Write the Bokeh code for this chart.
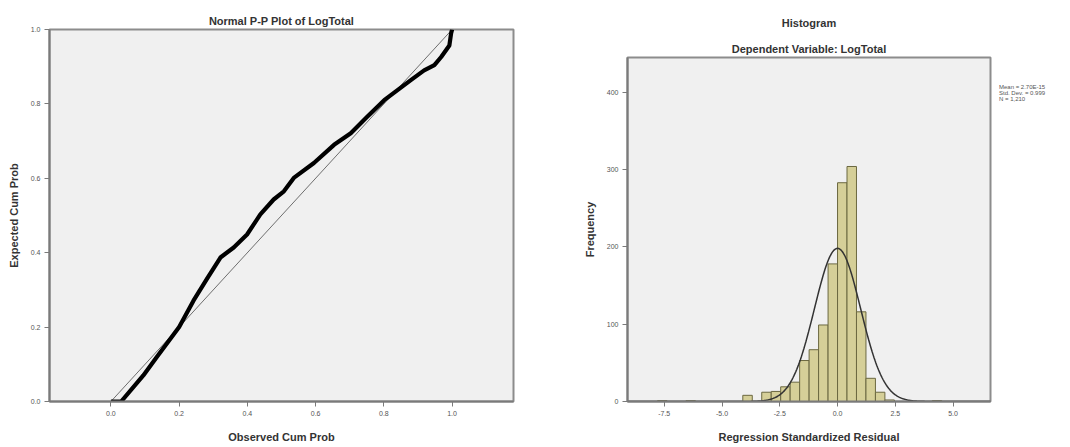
import numpy as np
from bokeh.plotting import figure
from bokeh.models import Range1d, FixedTicker, ColumnDataSource, CustomJSTickFormatter, Title, Div
from bokeh.layouts import row, column
from bokeh.embed import file_html
from bokeh.resources import INLINE

# ---------------- data ----------------
# Normal P-P plot
observed_cum = [0.0, 0.03, 0.095, 0.134, 0.2, 0.242, 0.281, 0.321, 0.36, 0.399, 0.438, 0.477,
                0.507, 0.536, 0.595, 0.654, 0.703, 0.752, 0.801, 0.84, 0.879, 0.918, 0.948,
                0.968, 0.992, 0.997, 1.0]
expected_cum = [0.0, 0.0, 0.07, 0.119, 0.2, 0.271, 0.329, 0.387, 0.414, 0.449, 0.503, 0.543,
                0.565, 0.601, 0.641, 0.69, 0.721, 0.766, 0.81, 0.837, 0.864, 0.89, 0.904,
                0.926, 0.957, 0.989, 1.0]
pp_ticks = [0.0, 0.2, 0.4, 0.6, 0.8, 1.0]

# Histogram of regression standardized residuals
bin_width = 0.41
bin_lefts = [-7.79, -6.56, -4.10, -3.28, -2.87, -2.46, -2.05, -1.64, -1.23, -0.82, -0.41,
             0.00, 0.41, 0.82, 1.23, 1.64, 2.05, 4.10]
bin_counts = [1, 1, 8, 12, 13, 19, 25, 53, 67, 99, 178, 283, 304, 116, 30, 12, 2, 1]
hist_x_ticks = [-7.5, -5.0, -2.5, 0.0, 2.5, 5.0]
hist_y_ticks = [0, 100, 200, 300, 400]

resid_mean = 2.70e-15
resid_sd = 0.999
resid_n = 1210
stats_lines = ["Mean = 2.70E-15", "Std. Dev. = 0.999", "N = 1,210"]

FONT = "Liberation Sans"
BG = "#f0f0f0"
FRAME = "#8c8c8c"
H = 445


def style(p):
    p.background_fill_color = BG
    p.border_fill_color = "white"
    p.outline_line_color = FRAME
    p.outline_line_width = 2
    p.grid.visible = False
    for ax in (p.xaxis[0], p.yaxis[0]):
        ax.axis_line_color = "#7a7a7a"
        ax.axis_line_width = 2
        ax.major_tick_line_color = "#7a7a7a"
        ax.major_tick_line_width = 1
        ax.major_tick_out = 5
        ax.major_tick_in = 0
        ax.minor_tick_line_color = None
        ax.major_label_text_font = FONT
        ax.major_label_text_font_size = "7px"
        ax.major_label_text_color = "#555555"
        ax.major_label_standoff = 4
        ax.axis_label_text_font = FONT
        ax.axis_label_text_font_size = "11px"
        ax.axis_label_text_font_style = "bold"
        ax.axis_label_text_color = "#333333"


def title_style(t):
    t.text_font = FONT
    t.text_font_size = "11px"
    t.text_font_style = "bold"
    t.text_color = "#333333"
    t.align = "center"


# ---------------- left: P-P plot ----------------
p1 = figure(width=560, height=H, output_backend="svg", toolbar_location=None,
            x_range=Range1d(-0.18, 1.18), y_range=Range1d(0, 1),
            min_border_left=49, min_border_right=47, min_border_top=29,
            min_border_bottom=H - 403)
style(p1)
p1.title.text = "Normal P-P Plot of LogTotal"
title_style(p1.title)
p1.title.standoff = 6
p1.title.offset = -23
p1.xaxis.ticker = FixedTicker(ticks=pp_ticks)
p1.yaxis.ticker = FixedTicker(ticks=pp_ticks)
fmt1 = CustomJSTickFormatter(code="return tick.toFixed(1);")
p1.xaxis.formatter = fmt1
p1.yaxis.formatter = fmt1
p1.xaxis.axis_label = "Observed Cum Prob"
p1.yaxis.axis_label = "Expected Cum Prob"
p1.xaxis.axis_label_standoff = 12
p1.yaxis.axis_label_standoff = 8

p1.line([pp_ticks[0], pp_ticks[-1]], [pp_ticks[0], pp_ticks[-1]], line_color="#6e6e6e", line_width=1)
p1.line(observed_cum, expected_cum, line_color="black", line_width=4.2, line_join="round")

# ---------------- right: histogram ----------------
p2 = figure(width=432, height=H, output_backend="svg", toolbar_location=None,
            x_range=Range1d(-9.09, 6.62), y_range=Range1d(0, 445),
            min_border_left=67, min_border_right=2, min_border_top=57,
            min_border_bottom=H - 403)
style(p2)
p2.title.text = "Histogram"
title_style(p2.title)
p2.title.standoff = 17
p2.title.offset = 40
t_sub = Title(text="Dependent Variable: LogTotal")
title_style(t_sub)
t_sub.offset = 40
t_sub.standoff = 6
p2.add_layout(t_sub, "above")

p2.xaxis.ticker = FixedTicker(ticks=hist_x_ticks)
p2.yaxis.ticker = FixedTicker(ticks=hist_y_ticks)
p2.xaxis.formatter = CustomJSTickFormatter(code="return tick.toFixed(1);")
p2.xaxis.axis_label = "Regression Standardized Residual"
p2.yaxis.axis_label = "Frequency"
p2.xaxis.axis_label_standoff = 12
p2.yaxis.axis_label_standoff = 8

lefts = np.array(bin_lefts)
src = ColumnDataSource(dict(left=lefts, right=lefts + bin_width, top=bin_counts,
                            bottom=[0] * len(bin_counts)))
p2.quad(left="left", right="right", top="top", bottom="bottom", source=src,
        fill_color="#d5cf98", line_color="#6b6840", line_width=1)

# fitted normal curve from the stated mean, std. dev. and N
xs = np.linspace(-9.09, 6.62, 400)
ys = resid_n * bin_width / (resid_sd * np.sqrt(2 * np.pi)) * np.exp(-0.5 * ((xs - resid_mean) / resid_sd) ** 2)
p2.line(xs, ys, line_color="#333333", line_width=1.5)

stats = Div(text=("<div style=\"font-family:'Liberation Sans';font-size:6px;line-height:6px;"
                  "color:#555555;padding-top:79px;padding-left:2px;white-space:nowrap\">"
                  + "<br>".join(stats_lines) + "</div>"),
            width=76, height=130)

layout = row(column(p1), column(p2), stats, spacing=0)
open("out.html", "w").write(file_html(layout, INLINE))
